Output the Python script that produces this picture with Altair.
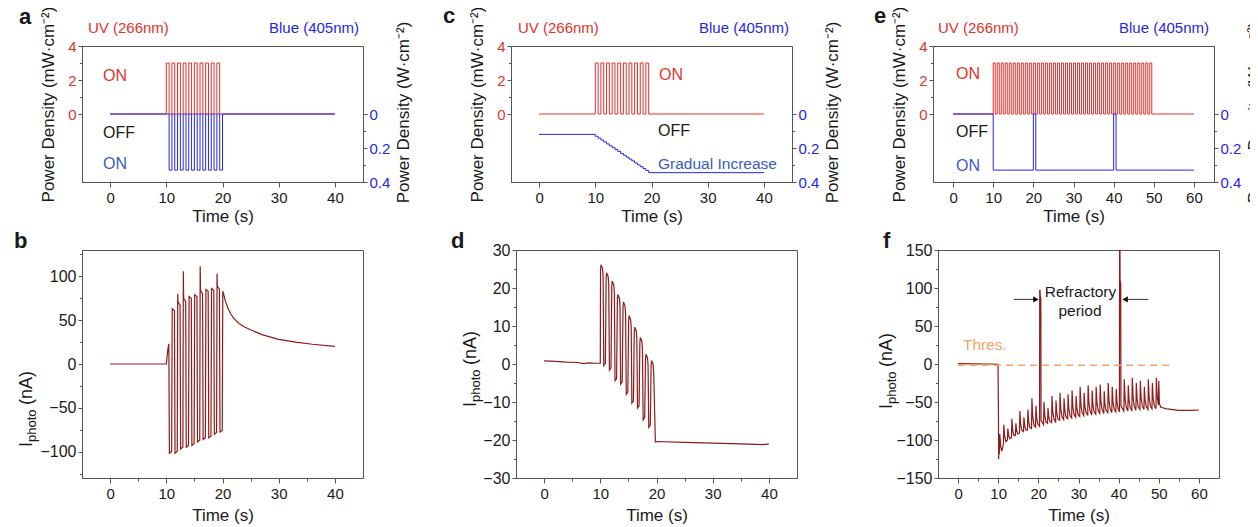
import altair as alt
import pandas as pd

FONT = "Liberation Sans"
RED = "#e2332e"
BLUE = "#2626e8"
BLUE_TXT = "#3a5cc0"
BROWN = "#8c1c1c"
ORANGE = "#f3a56d"
INK = "#1a1a1a"
FRAME = "#555555"

# ---------------- panel a ----------------
a_uv_on = [10, 11, 12, 13, 14, 15, 16, 17, 18, 19]
a_blue_on = [10.5, 11.5, 12.5, 13.5, 14.5, 15.5, 16.5, 17.5, 18.5, 19.5]
pulse_len = 0.5
uv_level = 3
blue_level = 0.33
a_end = 40

# ---------------- panel c ----------------
c_uv_on = [10, 11, 12, 13, 14, 15, 16, 17, 18, 19]
c_blue_step_t = [0, 10, 10.5, 11, 11.5, 12, 12.5, 13, 13.5, 14, 14.5, 15,
                 15.5, 16, 16.5, 17, 17.5, 18, 18.5, 19, 19.5]
c_blue_level = [0.12, 0.131, 0.142, 0.153, 0.164, 0.176, 0.187, 0.198, 0.209,
                0.220, 0.232, 0.243, 0.254, 0.265, 0.276, 0.288, 0.299, 0.310,
                0.321, 0.332, 0.345]
c_end = 40

# ---------------- panel e ----------------
e_uv_on = [10, 11, 12, 13, 14, 15, 16, 17, 18, 19, 20, 21, 22, 23, 24, 25, 26,
           27, 28, 29, 30, 31, 32, 33, 34, 35, 36, 37, 38, 39, 40, 41, 42, 43,
           44, 45, 46, 47, 48, 49]
e_blue_start = 10
e_blue_off_start = [20.0, 40.0]
e_blue_off_end = [20.6, 40.6]
e_end = 60

# ---------------- panel b ----------------
b_trough = [-101.8, -101.8, -97, -95, -93, -89, -86, -84, -80, -77.7]
b_plateau = [62, 68, 72, 76, 78, 81, 84, 85, 86]
b_spike = [0, 79.9, 105.8, 0, 0, 111.5, 0, 0, 103]
b_decay_t = [20.05, 20.2, 20.5, 21, 21.5, 22, 23, 24, 25, 27, 30, 33, 36, 40]
b_decay_v = [83, 80, 72, 63, 57, 52, 46, 42, 39, 33.5, 28, 25, 22.5, 20]

# ---------------- panel d ----------------
d_pre_t = [0, 2, 4, 6, 7, 8, 9, 10]
d_pre_v = [0.8, 0.7, 0.5, 0.4, 0.1, 0.3, 0.2, 0.2]
d_peak = [26.1, 24.0, 21.8, 18.3, 16.3, 12.7, 9.7, 7.0, 2.6, 0.9]
d_trough = [-0.4, -1.6, -4.4, -5.3, -8.0, -10.3, -11.6, -14.7, -16.7]
d_post_t = [19.8, 20, 25, 30, 35, 39, 40]
d_post_v = [-20.5, -20.4, -20.6, -20.8, -21.0, -21.2, -21.0]

# ---------------- panel f ----------------
f_spike_t = [10.3, 11.3, 12.3, 13.3, 14.3, 15.3, 16.3, 17.3, 18.3, 19.3, 20.3,
             21.3, 22.3, 23.3, 24.3, 25.3, 26.3, 27.3, 28.3, 29.3, 30.3, 31.3,
             32.3, 33.3, 34.3, 35.3, 36.3, 37.3, 38.3, 39.3, 40.2, 41.3, 42.3,
             43.3, 44.3, 45.3, 46.3, 47.3, 48.3, 49.3]
f_base = [-118, -105, -100, -97, -94, -91, -89, -87, -85, -83, -82, -80, -78,
          -77, -76, -74, -73, -72, -71, -70, -69, -68, -67, -67, -66, -65, -65,
          -64, -64, -63, -63, -62, -62, -61, -61, -60, -60, -60, -59, -59]
f_peak = [-92, -80, -85, -72, -78, -62, -70, -60, -45, -55, 97, -50, -58, -42,
          -48, -38, -45, -40, -35, -42, -30, -38, -28, -35, -30, -27, -36, -25,
          -30, -33, 165, -20, -28, -18, -25, -22, -30, -20, -25, -18]
f_shoulder = [0, 0, 0, 0, 0, 0, 0, 0, 0, 0, 90, 0, 0, 0, 0, 0, 0, 0, 0, 0, 0, 0,
              0, 0, 0, 0, 0, 0, 0, 0, 110, 0, 0, 0, 0, 0, 0, 0, 0, 0]
f_post_t = [50.0, 50.15, 50.5, 52, 55, 58, 60]
f_post_v = [-22, -52, -57, -59, -61, -61, -60.5]
thres_start, thres_end, thres_level = 0, 53.6, -1.5
arrow_from = [13.9, 47.4]
arrow_to = [19.4, 41.6]
arrow_y = [85, 85]
arrow_shape = ["triangle-right", "triangle-left"]


# ---------------- builders ----------------
def to_df(pts):
    df = pd.DataFrame(pts, columns=["t", "v"])
    df["i"] = range(len(df))
    return df


def square(on_times, dur, level, t_end):
    pts = [(0, 0)]
    for t in on_times:
        pts += [(t, 0), (t, level), (t + dur, level), (t + dur, 0)]
    pts.append((t_end, 0))
    return to_df(pts)


def stairs(ts, vals, t_end):
    pts = []
    for k, (t, v) in enumerate(zip(ts, vals)):
        if k > 0:
            pts.append((t, vals[k - 1]))
        pts.append((t, v))
    pts.append((t_end, vals[-1]))
    return to_df(pts)


def blue_e():
    pts = [(0, 0), (e_blue_start, 0), (e_blue_start, blue_level)]
    for s, e in zip(e_blue_off_start, e_blue_off_end):
        pts += [(s, blue_level), (s, 0), (e, 0), (e, blue_level)]
    pts.append((e_end, blue_level))
    return to_df(pts)


def trace_b():
    pts = [(0, 0), (10, 0), (10.15, 9), (10.3, 18), (10.45, 23)]
    for k in range(10):
        t0 = 10.5 + k
        tr = b_trough[k]
        pts += [(t0 + 0.05, tr), (t0 + 0.45, tr + 2)]
        if k < 9:
            t1 = 11 + k
            pl, sp = b_plateau[k], b_spike[k]
            if sp:
                pts += [(t1 + 0.03, sp), (t1 + 0.09, pl + 3)]
            else:
                pts += [(t1 + 0.05, pl + 1)]
            pts += [(t1 + 0.45, pl - 1)]
    pts += list(zip(b_decay_t, b_decay_v))
    return to_df(pts)


def trace_d():
    pts = list(zip(d_pre_t, d_pre_v))
    for k in range(10):
        t0 = 10 + k
        pk = d_peak[k]
        pts += [(t0 + 0.04, pk - 1.5), (t0 + 0.12, pk), (t0 + 0.4, pk - 1),
                (t0 + 0.5, pk - 3)]
        if k < 9:
            tr = d_trough[k]
            pts += [(t0 + 0.62, tr), (t0 + 0.9, tr + 0.6)]
    pts += list(zip(d_post_t, d_post_v))
    return to_df(pts)


def trace_f():
    pts = [(0, 0.5), (4, 0.2), (8, 0), (9.95, -0.5), (10.05, -60), (10.12, -125),
           (10.2, -112)]
    for k in range(40):
        t0, b, p, sh = f_spike_t[k], f_base[k], f_peak[k], f_shoulder[k]
        if sh:
            pts += [(t0, b), (t0 + 0.04, p), (t0 + 0.12, p), (t0 + 0.16, sh),
                    (t0 + 0.32, sh - 4), (t0 + 0.37, b + 8)]
        else:
            pts += [(t0, b), (t0 + 0.1, p), (t0 + 0.3, b + 0.4 * (p - b)),
                    (t0 + 0.6, b + 0.12 * (p - b))]
    pts += list(zip(f_post_t, f_post_v))
    return to_df(pts)


# ---------------- helpers ----------------
def txt(s, x, y, color=INK, size=16, align="left", baseline="middle",
        weight="normal", angle=0):
    return alt.Chart(pd.DataFrame({"z": [0]})).mark_text(
        text=s, align=align, baseline=baseline, fontSize=size, color=color,
        fontWeight=weight, font=FONT, angle=angle
    ).encode(x=alt.value(x), y=alt.value(y))


def cond_tick(test, big=5, small=3):
    return {"condition": {"test": test, "value": big}, "value": small}


def x_axis(xmax, title_y):
    return alt.Axis(
        values=list(range(0, xmax + 1, 5)),
        labelExpr="datum.value % 10 === 0 ? datum.label : ''",
        tickSize=cond_tick("datum.value % 10 === 0"),
        labelPadding=3, labelOverlap=False, labelFlush=False,
        title="Time (s)", titleY=title_y, titleBaseline="middle",
    )


W = 281
HT = 136
HB = 228


def top_panel(uv_df, blue_df, xmax, texts):
    xsc = alt.Scale(domain=[-5, xmax + 5], nice=False, zero=False)
    red = alt.Chart(uv_df).mark_line(color=RED, strokeWidth=1).encode(
        x=alt.X("t:Q", scale=xsc, axis=x_axis(xmax, 34)),
        y=alt.Y("v:Q", scale=alt.Scale(domain=[-4, 4], nice=False),
                axis=alt.Axis(
                    orient="left", values=[0, 1, 2, 3, 4],
                    labelExpr="datum.value % 2 === 0 ? datum.label : ''",
                    tickSize=cond_tick("datum.value % 2 === 0", 4, 2.5),
                    labelColor=RED, labelPadding=2, labelOverlap=False,
                    title="Power Density (mW·cm⁻²)", titleX=-34, titleY=58,
                    titleAngle=270, titleBaseline="middle")),
        order="i:Q",
    )
    blue = alt.Chart(blue_df).mark_line(color=BLUE, strokeWidth=1).encode(
        x=alt.X("t:Q", scale=xsc),
        y=alt.Y("v:Q", scale=alt.Scale(domain=[-0.4, 0.4], nice=False, reverse=True),
                axis=alt.Axis(
                    orient="right", values=[0, 0.1, 0.2, 0.3, 0.4], format=".1~f",
                    labelExpr="round(datum.value * 10) % 2 === 0 ? datum.label : ''",
                    tickSize=cond_tick("round(datum.value * 10) % 2 === 0", 4, 2.5),
                    labelColor=BLUE, labelPadding=2, labelOverlap=False,
                    title="Power Density (W·cm⁻²)", titleX=40, titleY=66,
                    titleAngle=270, titleBaseline="middle")),
        order="i:Q",
    )
    return alt.layer(red, blue, *texts).resolve_scale(y="independent").properties(
        width=W, height=HT)


def iphoto(x0, y0):
    return [
        txt("I", x0, y0, size=18, baseline="alphabetic", angle=270),
        txt("photo", x0 + 4, y0 - 5, size=13, baseline="alphabetic", angle=270),
        txt("(nA)", x0, y0 - 42, size=18, baseline="alphabetic", angle=270),
    ]


def bottom_axes(xmax, ylim, minor, major):
    first = -(ylim // minor) * minor
    xsc = alt.Scale(domain=[-5, xmax + 5], nice=False, zero=False)
    ysc = alt.Scale(domain=[-ylim, ylim], nice=False)
    yax = alt.Axis(
        values=list(range(first, -first + 1, minor)),
        labelExpr=f"datum.value % {major} === 0 ? datum.label : ''",
        tickSize=cond_tick(f"datum.value % {major} === 0", 4, 2.5),
        labelPadding=2, labelOverlap=False, labelFontSize=16, title=None)
    return xsc, x_axis(xmax, 37), ysc, yax


def bottom_panel(df, axes, back=(), front=()):
    xsc, xax, ysc, yax = axes
    line = alt.Chart(df).mark_line(color=BROWN, strokeWidth=1.2, clip=True).encode(
        x=alt.X("t:Q", scale=xsc, axis=xax),
        y=alt.Y("v:Q", scale=ysc, axis=yax),
        order="i:Q",
    )
    return alt.layer(line, *back, *front).properties(width=W, height=HB)


# ---------------- panels ----------------
pa = top_panel(
    square(a_uv_on, pulse_len, uv_level, a_end),
    square(a_blue_on, pulse_len, blue_level, a_end), 40,
    [txt("UV (266nm)", 6, -13, RED, 15, baseline="alphabetic"),
     txt("Blue (405nm)", 277, -13, BLUE, 15, align="right", baseline="alphabetic"),
     txt("ON", 21, 30, RED), txt("OFF", 21, 87, INK), txt("ON", 21, 118, BLUE_TXT),
     txt("a", -63, -29, INK, 22, weight="bold")])

pc = top_panel(
    square(c_uv_on, pulse_len, uv_level, c_end),
    stairs(c_blue_step_t, c_blue_level, c_end), 40,
    [txt("UV (266nm)", 7, -13, RED, 15, baseline="alphabetic"),
     txt("Blue (405nm)", 278, -13, BLUE, 15, align="right", baseline="alphabetic"),
     txt("ON", 148, 29, RED), txt("OFF", 147, 85, INK),
     txt("Gradual Increase", 147, 118, BLUE_TXT, 15.5),
     txt("c", -68, -30, INK, 22, weight="bold")])

pe = top_panel(
    square(e_uv_on, pulse_len, uv_level, e_end), blue_e(), 60,
    [txt("UV (266nm)", 5, -13, RED, 15, baseline="alphabetic"),
     txt("Blue (405nm)", 276, -13, BLUE, 15, align="right", baseline="alphabetic"),
     txt("ON", 23, 28, RED), txt("OFF", 23, 86, INK), txt("ON", 23, 120, BLUE_TXT),
     txt("e", -59, -30, INK, 22, weight="bold")])

pb = bottom_panel(trace_b(), bottom_axes(40, 130, 25, 50),
                  front=iphoto(-50, 197) + [txt("b", -68, -2, INK, 22, weight="bold",
                                                baseline="alphabetic")])

pd_ = bottom_panel(trace_d(), bottom_axes(40, 30, 5, 10),
                   front=iphoto(-40, 157) + [txt("d", -65, -2, INK, 22, weight="bold",
                                                 baseline="alphabetic")])

f_axes = bottom_axes(60, 150, 25, 50)
fxs, fxa, fys, fya = f_axes
thres_df = pd.DataFrame({"x0": [thres_start], "x1": [thres_end], "y": [thres_level]})
thres = alt.Chart(thres_df).mark_rule(color=ORANGE, strokeWidth=1.5,
                                      strokeDash=[7, 5]).encode(
    x=alt.X("x0:Q", scale=fxs, axis=fxa), x2="x1:Q",
    y=alt.Y("y:Q", scale=fys, axis=fya))
arr_df = pd.DataFrame({"x0": arrow_from, "x1": arrow_to, "y": arrow_y,
                       "shape": arrow_shape})
arr_line = alt.Chart(arr_df).mark_rule(color="#333333", strokeWidth=1).encode(
    x=alt.X("x0:Q", scale=fxs, axis=fxa), x2="x1:Q",
    y=alt.Y("y:Q", scale=fys, axis=fya))
arr_head = alt.Chart(arr_df).mark_point(filled=True, color="#111111", size=40,
                                        opacity=1).encode(
    x=alt.X("x1:Q", scale=fxs, axis=fxa),
    y=alt.Y("y:Q", scale=fys, axis=fya),
    shape=alt.Shape("shape:N", scale=alt.Scale(domain=arrow_shape, range=arrow_shape),
                    legend=None))

pf = bottom_panel(trace_f(), f_axes, back=[thres],
                  front=[arr_line, arr_head,
                         txt("Refractory", 142.5, 42, INK, 15.5, align="center"),
                         txt("period", 142, 61, INK, 15.5, align="center"),
                         txt("Thres.", 25, 95, ORANGE, 15.5)]
                  + iphoto(-46, 159)
                  + [txt("f", -55, -2, INK, 22, weight="bold", baseline="alphabetic")])

row1 = alt.hconcat(pa, alt.hconcat(pc, pe, spacing=141, bounds="flush"),
                   spacing=148, bounds="flush")
row2 = alt.hconcat(pb, alt.hconcat(pd_, pf, spacing=141, bounds="flush"),
                   spacing=153, bounds="flush")

# nested flush groups report no height, so the gap spans the top row's plot too.
# Negative right padding crops the far-right axis title at the page edge,
# as in the reference, instead of widening the page.
chart = alt.vconcat(row1, row2, spacing=HT + 68, bounds="flush").properties(
    padding={"left": 5, "top": -4, "right": -13, "bottom": 0}
).configure(background="white").configure_view(
    stroke=FRAME, strokeWidth=1
).configure_axis(
    domainColor=FRAME, tickColor=FRAME, grid=False,
    labelFont=FONT, titleFont=FONT, labelFontSize=15, titleFontSize=17,
    titleFontWeight="normal", labelColor=INK, titleColor=INK,
).configure_text(font=FONT)

chart.save("out.html", embed_options={"renderer": "svg", "actions": False})
